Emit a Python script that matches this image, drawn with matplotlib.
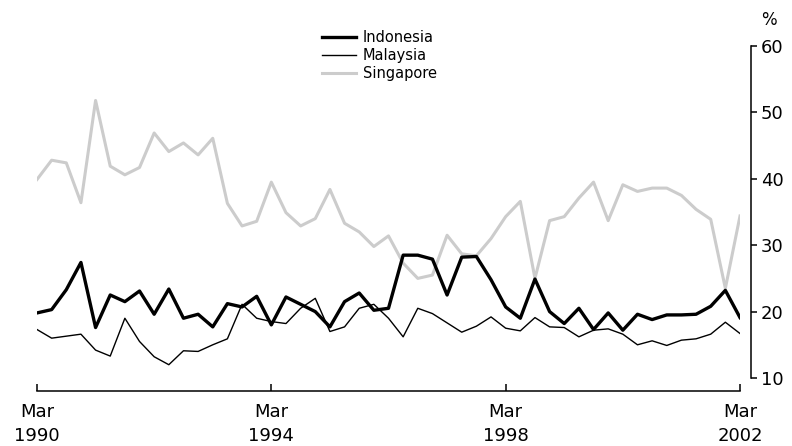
import matplotlib
matplotlib.use("Agg")
import matplotlib.pyplot as plt
import numpy as np

# quarterly, Mar 1990 .. Mar 2002
quarters = np.arange(49)
tick_pos = [0, 16, 32, 48]
tick_labels = ['Mar\n1990', 'Mar\n1994', 'Mar\n1998', 'Mar\n2002']

indonesia = [19.8, 20.3, 23.3, 27.4, 17.6, 22.5, 21.5, 23.1, 19.6, 23.4, 19.0, 19.6, 17.7, 21.2, 20.7, 22.3,
             18.0, 22.2, 21.1, 20.0, 17.7, 21.5, 22.8, 20.2, 20.5, 28.5, 28.5, 27.9, 22.5, 28.2, 28.3, 24.8, 20.7,
             19.0, 24.9, 20.0, 18.2, 20.5, 17.3, 19.8, 17.2, 19.6, 18.8, 19.5, 19.5, 19.6, 20.8, 23.2, 19.1]
malaysia = [17.3, 16.0, 16.3, 16.6, 14.2, 13.3, 19.0, 15.5, 13.2, 12.0, 14.1, 14.0, 15.0, 15.9, 21.1, 19.0,
            18.5, 18.2, 20.5, 22.0, 17.0, 17.7, 20.5, 21.1, 19.0, 16.2, 20.5, 19.7, 18.3, 16.9, 17.8, 19.2, 17.5,
            17.1, 19.1, 17.7, 17.6, 16.2, 17.2, 17.4, 16.6, 15.0, 15.6, 14.9, 15.7, 15.9, 16.6, 18.4, 16.7]
singapore = [39.9, 42.8, 42.4, 36.4, 51.8, 41.9, 40.6, 41.7, 46.9, 44.1, 45.4, 43.6, 46.1, 36.3, 32.9, 33.6,
             39.5, 34.9, 32.9, 34.0, 38.4, 33.3, 32.0, 29.8, 31.4, 27.3, 25.0, 25.5, 31.5, 28.7, 28.4, 31.0, 34.3,
             36.6, 25.0, 33.7, 34.3, 37.1, 39.5, 33.7, 39.1, 38.1, 38.6, 38.6, 37.5, 35.4, 33.9, 23.5, 34.4]

plt.rcParams['font.family'] = 'DejaVu Sans'

fig = plt.figure(figsize=(7.92, 4.46), dpi=100)
ax = fig.add_axes([37 / 792, 1 - 378 / 446, (740 - 37) / 792, (378 - 46) / 446])

ax.plot(quarters, indonesia, color='black', lw=2.4, label='Indonesia', zorder=3)
ax.plot(quarters, malaysia, color='black', lw=1.0, label='Malaysia', zorder=2)
ax.plot(quarters, singapore, color='#cccccc', lw=2.2, label='Singapore', zorder=1)

ax.set_xlim(0, 48)
ax.set_ylim(10, 60)

# spines sit a little away from the data area (offsets in points)
ax.spines['top'].set_visible(False)
ax.spines['left'].set_visible(False)
ax.spines['right'].set_position(('outward', 8))
ax.spines['bottom'].set_position(('outward', 9.4))
for s in ('right', 'bottom'):
    ax.spines[s].set_linewidth(1.1)

ax.yaxis.tick_right()
ax.set_yticks([10, 20, 30, 40, 50, 60])
ax.tick_params(axis='y', direction='out', length=4, width=1.1, labelsize=13, pad=3)
ax.set_xticks(tick_pos)
ax.set_xticklabels(tick_labels, linespacing=1.45)
ax.tick_params(axis='x', direction='in', length=5, width=1.1, labelsize=13, pad=8.6)

fig.text(769 / 792, 1 - 20 / 446, '%', fontsize=12, ha='center', va='center')

fig.legend(loc='upper left', bbox_to_anchor=(322 / 792, 1 - 30 / 446), frameon=False,
           fontsize=10.5, handlelength=2.3, handletextpad=0.5, labelspacing=0.2,
           borderaxespad=0, borderpad=0)

fig.savefig('out.png', dpi=100)
